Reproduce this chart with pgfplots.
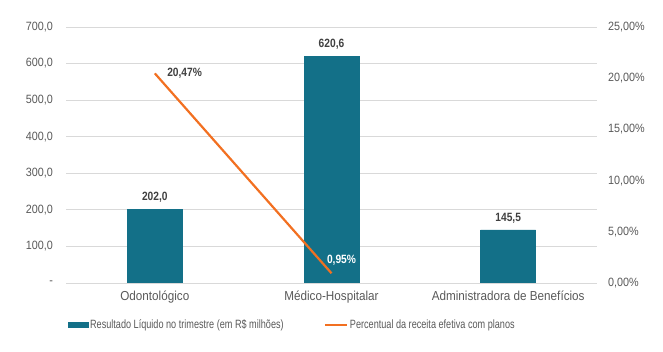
\documentclass[border=0pt]{standalone}
\usepackage{pgfplots}
\pgfplotsset{compat=1.18}
\usepackage{fontspec}
\setmainfont[FakeStretch=0.86]{Liberation Sans}
\newfontfamily\tickfont[FakeStretch=0.9]{Liberation Sans}
\newfontfamily\legfont[FakeStretch=0.76]{Liberation Sans}
\newfontfamily\lblfont[FakeStretch=0.85]{Liberation Sans}
\definecolor{barteal}{RGB}{19,112,136}
\definecolor{lineorange}{RGB}{242,112,33}
\definecolor{txtgray}{RGB}{89,89,89}
\definecolor{lblgray}{RGB}{64,64,64}
\definecolor{gridgray}{RGB}{217,217,217}
\begin{document}
\begin{tikzpicture}[x=1pt,y=1pt]
\begin{axis}[
  at={(66.5pt,69pt)}, anchor=south west,
  scale only axis, width=530pt, height=256pt,
  xmin=-0.5, xmax=2.5, ymin=0, ymax=700,
  xtick={0,1,2},
  xticklabels={Odontológico,Médico-Hospitalar,Administradora de Benefícios},
  ytick={0,100,...,700},
  yticklabels={-,{100,0},{200,0},{300,0},{400,0},{500,0},{600,0},{700,0}},
  axis y line*=left, y axis line style={draw=none},
  axis x line*=bottom, x axis line style={draw=gridgray},
  major tick length=0pt,
  ymajorgrids, grid style={gridgray, line width=0.8pt},
  yticklabel style={font=\tickfont\fontsize{12}{14}\selectfont, text=txtgray, xshift=-10pt},
  xticklabel style={font=\tickfont\fontsize{13}{15}\selectfont, text=txtgray, yshift=-4pt},
  /pgf/number format/assume math mode=true,
  legend columns=2,
  legend style={at={(-2pt,-42pt)}, anchor=west, draw=none, fill=none,
    font=\legfont\fontsize{12}{14}\selectfont, text=txtgray,
    /tikz/every even column/.append style={column sep=38pt}},
  legend cell align=left,
]
\addplot[ybar, bar width=55pt, fill=barteal, draw=barteal,
  legend image code/.code={\fill[barteal] (-1pt,-2.5pt) rectangle (19pt,2.5pt);},
  nodes near coords, every node near coord/.append style={font=\lblfont\bfseries\fontsize{12}{14}\selectfont, text=lblgray, yshift=3pt},
  /pgf/number format/.cd, fixed, fixed zerofill, precision=1, use comma]
  coordinates {(0,202.0) (1,620.6) (2,145.5)};
\addlegendentry{Resultado Líquido no trimestre (em R\$ milhões)}
\addlegendimage{legend image code/.code={\draw[lineorange, line width=2.2pt] (0pt,0pt) -- (22pt,0pt);}}
\addlegendentry[xshift=-4pt]{Percentual da receita efetiva com planos}
\end{axis}
\begin{axis}[
  at={(66.5pt,69pt)}, anchor=south west,
  scale only axis, width=530pt, height=256pt,
  xmin=-0.5, xmax=2.5, ymin=0, ymax=25,
  axis x line=none,
  axis y line*=right, y axis line style={draw=none},
  major tick length=0pt,
  ytick={0,5,...,25},
  yticklabels={{0,00\%},{5,00\%},{10,00\%},{15,00\%},{20,00\%},{25,00\%}},
  yticklabel style={font=\tickfont\fontsize{12}{14}\selectfont, text=txtgray, xshift=8pt},
]
\addplot[lineorange, line width=2.2pt, mark=none]
  coordinates {(0,20.47) (1,0.95)}
  node[pos=0, anchor=west, xshift=8pt, font=\lblfont\bfseries\fontsize{12}{14}\selectfont, text=lblgray] {20,47\%}
  node[pos=1, anchor=south, xshift=10pt, yshift=3pt, font=\lblfont\bfseries\fontsize{12}{14}\selectfont, text=white] {0,95\%};
\end{axis}
\pgfresetboundingbox
\path[use as bounding box] (0pt,0pt) rectangle (663pt,352pt);
\end{tikzpicture}
\end{document}
